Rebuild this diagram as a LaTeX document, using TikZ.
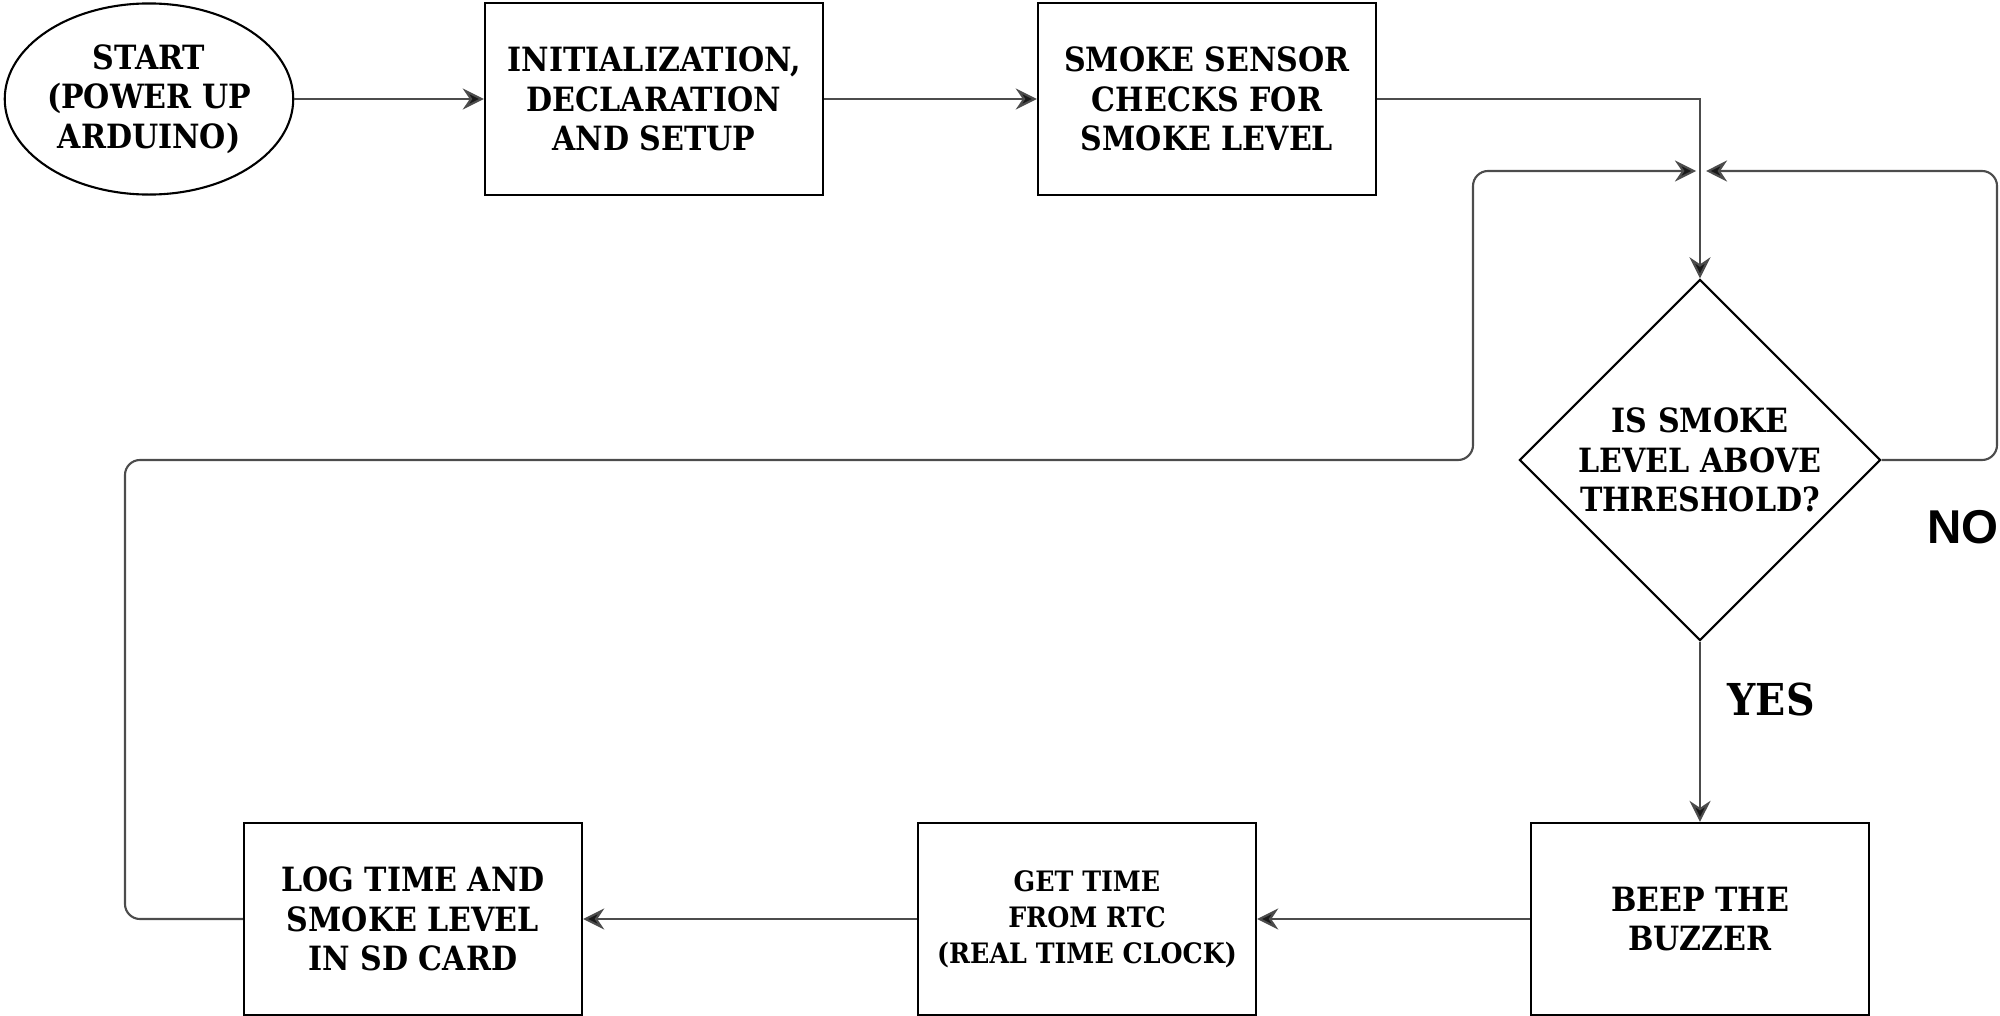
\documentclass[tikz,border=0pt]{standalone}
\usepackage{fontspec}
\setmainfont{DejaVu Serif}[FakeStretch=0.9]
\newfontfamily\labelsans{Liberation Sans}
\usetikzlibrary{positioning, shapes.geometric, arrows.meta, calc}

\tikzset{
	boxtext/.style={font=\fontsize{9.5}{11.3}\selectfont\bfseries}
}
\tikzset{
	procbox/.style={draw=black, line width=0.6pt, minimum width=3.38cm, minimum height=1.92cm,
			inner sep=0pt, align=center, boxtext}
}
\tikzset{
	startnode/.style={ellipse, draw=black, line width=0.6pt, minimum width=2.87cm, minimum height=1.91cm,
			inner sep=0pt, align=center, boxtext}
}
\tikzset{
	checknode/.style={diamond, draw=black, line width=0.6pt, minimum width=3.61cm, minimum height=3.61cm,
			inner sep=0pt, align=center, boxtext}
}
\tikzset{
	flowline/.style={line width=0.6pt, draw=black!70, -{Stealth[length=6pt, width=6pt, inset=2pt, fill=black!90]}}
}

\begin{document}
\begin{tikzpicture}[x=0.01cm, y=-0.01cm]

			\useasboundingbox (0,0) rectangle (2000,1015);

			% top row
			\begin{scope}
				\node[startnode] (start) at (149,99) {START\\(POWER UP\\ARDUINO)};
				\node[procbox] (init) at (654,99) {INITIALIZATION,\\DECLARATION\\AND SETUP};
				\node[procbox] (sensor) at (1207,99) {SMOKE SENSOR\\CHECKS FOR\\SMOKE LEVEL};
			\end{scope}

			\node[checknode] (check) at (1700,460) {IS SMOKE\\LEVEL ABOVE\\THRESHOLD?};

			% bottom row
			\begin{scope}
				\node[procbox] (beep) at (1700,919) {BEEP THE\\BUZZER};
				\node[procbox, font=\fontsize{8}{10.2}\selectfont\bfseries] (rtc) at (1087,919) {GET TIME\\FROM RTC\\(REAL TIME CLOCK)};
				\node[procbox] (log) at (413,919) {LOG TIME AND\\SMOKE LEVEL\\IN SD CARD};
			\end{scope}

			\coordinate (mergeL) at (1696,171);
			\coordinate (mergeR) at (1706,171);
			\coordinate (loopA) at (125,460);
			\coordinate (loopB) at (1473,171);
			\coordinate (noTurn) at (1997,171);

			\draw[flowline] (start) -- (init);
			\draw[flowline] (init) -- (sensor);
			\draw[flowline] (sensor.east) -| (check.north);
			\draw[flowline] (check.south) -- (beep.north);
			\draw[flowline] (beep) -- (rtc);
			\draw[flowline] (rtc) -- (log);

			% loops back to the sensor check
			\draw[flowline, rounded corners=0.15cm] (log.west) -| (loopA) -| (loopB) -- (mergeL);
			\draw[flowline, rounded corners=0.15cm] (check.east) -| (noTurn) -- (mergeR);

			\node[anchor=west, inner sep=0pt, font=\fontsize{12.5}{14}\selectfont\bfseries] (yes) at (1727,699) {YES};
			\node[anchor=east, inner sep=0pt, font=\labelsans\fontsize{13.5}{15}\selectfont\bfseries] (no) at (1999,527) {NO};

		\end{tikzpicture}
\end{document}
